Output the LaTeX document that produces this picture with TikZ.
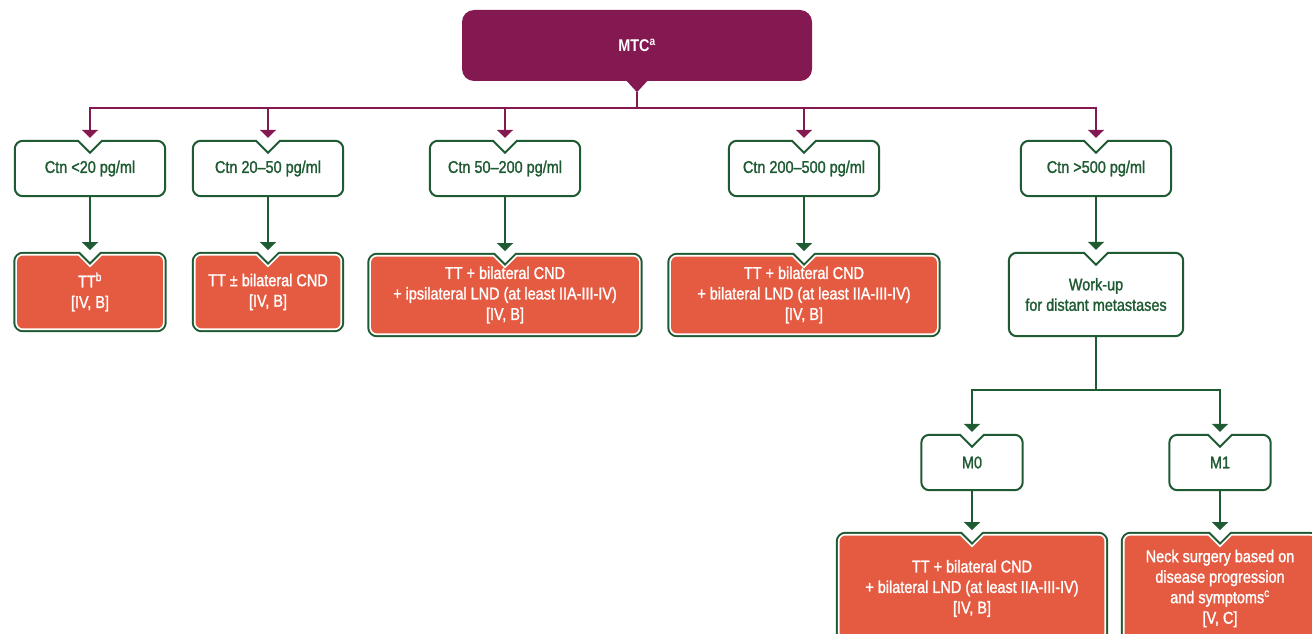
\documentclass[tikz,border=0pt]{standalone}
\usepackage{fontspec}
\setmainfont{Liberation Sans}[FakeStretch=0.85,UprightFeatures={FakeBold=1.4}]
\usepackage{tikz}
\usetikzlibrary{arrows.meta,backgrounds,calc,positioning}
\definecolor{mtcpurple}{HTML}{831950}
\definecolor{boxgreen}{HTML}{1E5A32}
\definecolor{txorange}{HTML}{E55B42}

\begin{document}
\begin{tikzpicture}[x=1pt,y=-1pt,font=\fontsize{17}{20.5}\selectfont,
  wbox/.style={minimum height=55pt,inner sep=0pt,align=center,text=boxgreen},
  obox/.style={inner sep=0pt,align=center,text=white},
  parr/.style={mtcpurple,line width=2.2pt,-{Triangle[width=16pt,length=8pt]},shorten >=3pt},
  garr/.style={boxgreen,line width=2.2pt,-{Triangle[width=16pt,length=8pt]},shorten >=3pt},
  toorange/.style={shorten >=5.5pt}]
\useasboundingbox (0,0) rectangle (1312,634);
% top box
\node[fill=mtcpurple,rounded corners=12pt,minimum width=350pt,minimum height=71pt,text=white,font=\fontsize{17}{20.5}\selectfont\bfseries] (mtc) at (637,45.5) {MTC\textsuperscript{a}};
\fill[mtcpurple] ($(mtc.south)+(-11,-1)$) -- ++(22,0) -- ++(-11,12) -- cycle;
\coordinate (mtctip) at ($(mtc.south)+(0,11)$);
% calcitonin levels
\node[wbox,minimum width=150pt] (ctn1) at (90,168.5) {Ctn <20 pg/ml};
\node[wbox,minimum width=150pt] (ctn2) at (268,168.5) {Ctn 20--50 pg/ml};
\node[wbox,minimum width=150pt] (ctn3) at (505,168.5) {Ctn 50--200 pg/ml};
\node[wbox,minimum width=150pt] (ctn4) at (804,168.5) {Ctn 200--500 pg/ml};
\node[wbox,minimum width=150pt] (ctn5) at (1096,168.5) {Ctn >500 pg/ml};
% treatments
\node[obox,minimum width=145.5pt,minimum height=72.5pt] (tt1) at (90,292) {TT\textsuperscript{b}\\{[IV, B]}};
\node[obox,minimum width=144.5pt,minimum height=72.5pt] (tt2) at (268,292) {TT ± bilateral CND\\{[IV, B]}};
\node[obox,minimum width=267.5pt,minimum height=76.5pt] (tt3) at (505,295) {TT + bilateral CND\\+ ipsilateral LND (at least IIA-III-IV)\\{[IV, B]}};
\node[obox,minimum width=265.5pt,minimum height=76.5pt] (tt4) at (804,295) {TT + bilateral CND\\+ bilateral LND (at least IIA-III-IV)\\{[IV, B]}};
\node[wbox,minimum width=174pt,minimum height=83pt] (workup) at (1096,294.5) {Work-up\\for distant metastases};
\node[wbox,minimum width=101pt] (m0) at (972,462.5) {M0};
\node[wbox,minimum width=101pt] (m1) at (1220,462.5) {M1};
\node[obox,minimum width=264.5pt,minimum height=105.5pt] (tt5) at (972,588.5) {TT + bilateral CND\\+ bilateral LND (at least IIA-III-IV)\\{[IV, B]}};
\node[obox,minimum width=190.5pt,minimum height=105.5pt] (neck) at (1220,588.5) {Neck surgery based on\\disease progression\\and symptoms\textsuperscript{c}\\{[V, C]}};
% box outlines with notch
\begin{scope}[on background layer]
\clip (0,0) rectangle (1312,634);
\foreach \n in {ctn1,ctn2,ctn3,ctn4,ctn5,workup,m0,m1}{
  \draw[boxgreen,line width=2pt,fill=white] ($(\n.north)+(0,12)$) -- ($(\n.north)+(-12,0)$) -- ($(\n.north west)+(20,0)$) {[rounded corners=8pt] -- (\n.north west) -- (\n.south west) -- (\n.south east) -- (\n.north east) -- ($(\n.north east)+(-20,0)$)} -- ($(\n.north)+(12,0)$) -- cycle;
}
\foreach \n in {tt1,tt2,tt3,tt4,tt5,neck}{
  \path[preaction={draw=boxgreen,line width=7.5pt},preaction={draw=white,line width=3.5pt},fill=txorange] ($(\n.north)+(0,12)$) -- ($(\n.north)+(-12,0)$) -- ($(\n.north west)+(20,0)$) {[rounded corners=6pt] -- (\n.north west) -- (\n.south west) -- (\n.south east) -- (\n.north east) -- ($(\n.north east)+(-20,0)$)} -- ($(\n.north)+(12,0)$) -- cycle;
}
\end{scope}
% connectors
\foreach \c in {ctn1,ctn2,ctn3,ctn4,ctn5}
  \draw[parr] (mtctip) -- ++(0,16) -| (\c);
\draw[garr,toorange] (ctn1) -- (tt1);
\draw[garr,toorange] (ctn2) -- (tt2);
\draw[garr,toorange] (ctn3) -- (tt3);
\draw[garr,toorange] (ctn4) -- (tt4);
\draw[garr] (ctn5) -- (workup);
\draw[boxgreen,line width=2.2pt] (workup.south) -- ++(0,54) coordinate (split);
\draw[garr] (split) -| (m0);
\draw[garr] (split) -| (m1);
\draw[garr,toorange] (m0) -- (tt5);
\draw[garr,toorange] (m1) -- (neck);
\end{tikzpicture}
\end{document}
